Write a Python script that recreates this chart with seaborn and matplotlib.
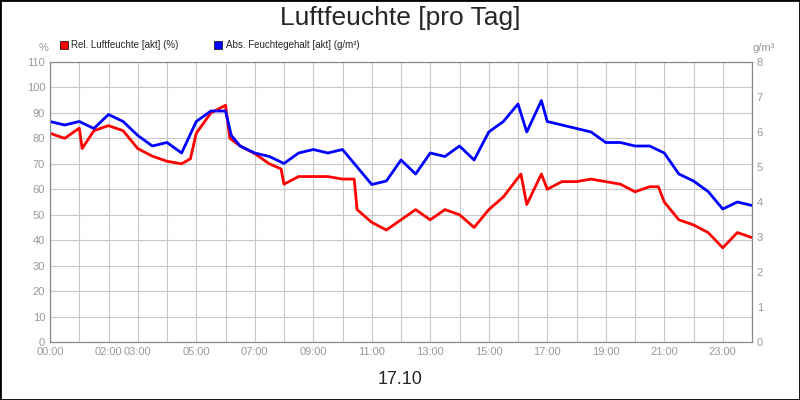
import matplotlib
matplotlib.use("Agg")
import matplotlib.pyplot as plt
import seaborn as sns
import pandas as pd
from matplotlib.patches import Rectangle

# hours since 00:00 and readings
rel_hours = [0, 0.5, 1.0, 1.1, 1.5, 2.0, 2.5, 3.0, 3.5, 4.0, 4.5, 4.8, 5.0, 5.5, 6.0, 6.15, 6.5, 7.0, 7.5,
             7.9, 8.0, 8.5, 9.0, 9.5, 10.0, 10.4, 10.5, 11.0, 11.5, 12.0, 12.5, 13.0, 13.5, 14.0, 14.5,
             15.0, 15.5, 16.1, 16.3, 16.8, 17.0, 17.5, 18.0, 18.5, 19.0, 19.5, 20.0, 20.5, 20.8, 21.0,
             21.5, 22.0, 22.5, 23.0, 23.5, 24.0]
rel_values = [82, 80, 84, 76, 83, 85, 83, 76, 73, 71, 70, 72, 82, 90, 93, 80, 77, 74, 70,
              68, 62, 65, 65, 65, 64, 64, 52, 47, 44, 48, 52, 48, 52, 50, 45,
              52, 57, 66, 54, 66, 60, 63, 63, 64, 63, 62, 59, 61, 61, 55,
              48, 46, 43, 37, 43, 41]

abs_hours = [0, 0.5, 1.0, 1.5, 2.0, 2.5, 3.0, 3.5, 4.0, 4.5, 5.0, 5.5, 6.0, 6.2, 6.5, 7.0, 7.5,
             8.0, 8.5, 9.0, 9.5, 10.0, 10.5, 11.0, 11.5, 12.0, 12.5, 13.0, 13.5, 14.0, 14.5,
             15.0, 15.5, 16.0, 16.3, 16.8, 17.0, 17.5, 18.0, 18.5, 19.0, 19.5, 20.0, 20.5, 21.0,
             21.5, 22.0, 22.5, 23.0, 23.5, 24.0]
abs_values = [6.3, 6.2, 6.3, 6.1, 6.5, 6.3, 5.9, 5.6, 5.7, 5.4, 6.3, 6.6, 6.6, 5.9, 5.6, 5.4, 5.3,
              5.1, 5.4, 5.5, 5.4, 5.5, 5.0, 4.5, 4.6, 5.2, 4.8, 5.4, 5.3, 5.6, 5.2,
              6.0, 6.3, 6.8, 6.0, 6.9, 6.3, 6.2, 6.1, 6.0, 5.7, 5.7, 5.6, 5.6, 5.4,
              4.8, 4.6, 4.3, 3.8, 4.0, 3.9]

tick_hours = [0, 2, 3, 5, 7, 9, 11, 13, 15, 17, 19, 21, 23]
tick_labels = ["00:00", "02:00", "03:00", "05:00", "07:00", "09:00", "11:00",
               "13:00", "15:00", "17:00", "19:00", "21:00", "23:00"]

rel = pd.DataFrame({"h": rel_hours, "v": rel_values})
ab = pd.DataFrame({"h": abs_hours, "v": abs_values})

sns.set_style("white")
plt.rcParams['font.family'] = ['Liberation Sans', 'DejaVu Sans']
fig = plt.figure(figsize=(8, 4), dpi=100)
fig.patches.append(Rectangle((0, 0), 1, 1, transform=fig.transFigure, fill=False,
                             edgecolor="black", linewidth=2))
ax = fig.add_axes([0.0625, 0.145, 0.8775, 0.70])
sns.lineplot(data=rel, x="h", y="v", color="#ff0000", linewidth=2, ax=ax)
ax.set_xlim(0, 24)
ax.set_ylim(0, 110)
ax.set_yticks(range(0, 111, 10))
ax.set_xticks(range(0, 25), minor=True)
ax.set_xticks(tick_hours)
ax.set_xticklabels(tick_labels)
ax.grid(True, which="both", color="#c8c8c8", linewidth=0.8)
ax.set_axisbelow(True)
ax.set_xlabel("")
ax.set_ylabel("")
ax.tick_params(labelsize=8, colors="#999999", length=0)
for s in ax.spines.values():
    s.set_color("#888888")

ax2 = ax.twinx()
sns.lineplot(data=ab, x="h", y="v", color="#0000ff", linewidth=2, ax=ax2)
ax2.set_ylim(0, 8)
ax2.set_yticks(range(0, 9))
ax2.set_ylabel("")
ax2.tick_params(labelsize=8, colors="#999999", length=0)
for s in ax2.spines.values():
    s.set_color("#888888")

fig.text(0.5, 0.955, "Luftfeuchte [pro Tag]", ha="center", va="center", fontsize=19)
fig.text(0.5, 0.05, "17.10", ha="center", va="center", fontsize=13)
fig.text(0.054, 0.88, "%", ha="center", va="center", fontsize=8, color="#999999")
fig.text(0.955, 0.88, "g/m³", ha="center", va="center", fontsize=8, color="#999999")
fig.patches.append(Rectangle((0.075, 0.877), 0.01, 0.02, transform=fig.transFigure,
                             facecolor="#ff0000", edgecolor="black", linewidth=0.5))
fig.text(0.089, 0.887, "Rel. Luftfeuchte [akt] (%)", va="center", fontsize=7)
fig.patches.append(Rectangle((0.268, 0.877), 0.01, 0.02, transform=fig.transFigure,
                             facecolor="#0000ff", edgecolor="black", linewidth=0.5))
fig.text(0.282, 0.887, "Abs. Feuchtegehalt [akt] (g/m³)", va="center", fontsize=7)

fig.savefig("out.png", dpi=100)
